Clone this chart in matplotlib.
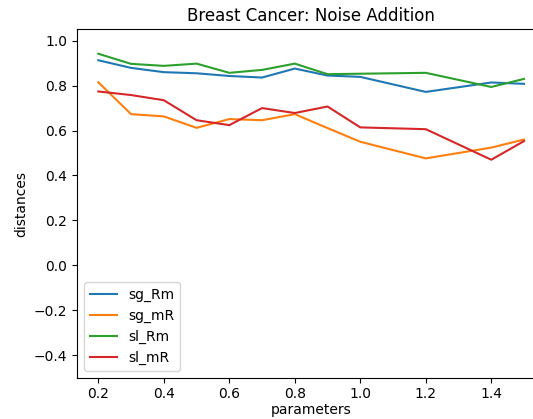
import matplotlib
matplotlib.use('Agg')
import matplotlib.pyplot as plt

params = [0.2, 0.3, 0.4, 0.5, 0.6, 0.7, 0.8, 0.9, 1.0, 1.2, 1.4, 1.5]
sg_Rm = [0.913, 0.879, 0.860, 0.855, 0.843, 0.836, 0.876, 0.845, 0.839, 0.772, 0.814, 0.808]
sg_mR = [0.815, 0.673, 0.663, 0.612, 0.651, 0.646, 0.673, 0.611, 0.550, 0.476, 0.524, 0.560]
sl_Rm = [0.942, 0.897, 0.888, 0.898, 0.857, 0.870, 0.898, 0.851, 0.853, 0.857, 0.794, 0.830]
sl_mR = [0.774, 0.758, 0.735, 0.646, 0.624, 0.700, 0.678, 0.707, 0.614, 0.606, 0.470, 0.553]

fig = plt.figure(figsize=(5.33, 4.19), dpi=100)
# axes runs past the right edge, as in the (cropped) original
ax = fig.add_axes([0.1445, 0.099, 0.8786, 0.8306])

ax.plot(params, sg_Rm, label='sg_Rm')
ax.plot(params, sg_mR, label='sg_mR')
ax.plot(params, sl_Rm, label='sl_Rm')
ax.plot(params, sl_mR, label='sl_mR')

ax.set_ylim(-0.5, 1.05)
ax.set_title('Breast Cancer: Noise Addition')
ax.set_xlabel('parameters', labelpad=1.5)
ax.set_ylabel('distances')
ax.legend(loc='lower left')

fig.savefig('out.png', dpi=100)
